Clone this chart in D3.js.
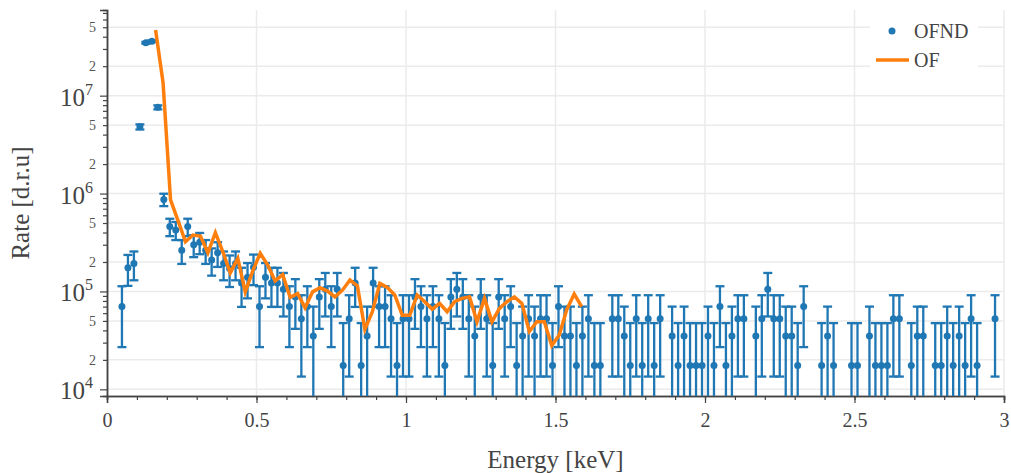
<!DOCTYPE html>
<html>
<head>
<meta charset="utf-8">
<script src="https://cdn.jsdelivr.net/npm/d3@7"></script>
<style>
  body { margin: 0; background: #fff; }
  text { font-family: "Liberation Serif", "Times New Roman", serif; fill: #444; }
</style>
</head>
<body>
<div id="chart"></div>
<script>
// OFND: measured rate per energy bin, with its error
const ofndEnergy = [0.05, 0.07, 0.09, 0.11, 0.13, 0.15, 0.17, 0.19, 0.21, 0.23, 0.25, 0.27, 0.29, 0.31, 0.33, 0.35,
  0.37, 0.39, 0.41, 0.43, 0.45, 0.47, 0.49, 0.51, 0.53, 0.55, 0.57, 0.59, 0.61, 0.63, 0.65, 0.67, 0.69, 0.71, 0.73,
  0.75, 0.77, 0.79, 0.81, 0.83, 0.85, 0.87, 0.89, 0.91, 0.93, 0.95, 0.97, 0.99, 1.01, 1.03, 1.05, 1.07, 1.09, 1.11,
  1.13, 1.15, 1.17, 1.19, 1.21, 1.23, 1.25, 1.27, 1.29, 1.31, 1.33, 1.35, 1.37, 1.39, 1.41, 1.43, 1.45, 1.47, 1.49,
  1.51, 1.53, 1.55, 1.57, 1.59, 1.61, 1.63, 1.65, 1.69, 1.71, 1.73, 1.75, 1.77, 1.79, 1.81, 1.83, 1.85, 1.89, 1.91,
  1.93, 1.95, 1.97, 1.99, 2.01, 2.03, 2.05, 2.07, 2.09, 2.11, 2.13, 2.17, 2.19, 2.21, 2.23, 2.25, 2.27, 2.29, 2.31,
  2.33, 2.39, 2.41, 2.43, 2.49, 2.51, 2.55, 2.57, 2.59, 2.61, 2.63, 2.65, 2.69, 2.71, 2.73, 2.77, 2.79, 2.81, 2.83,
  2.85, 2.87, 2.89, 2.91, 2.97];
const ofndRate = [7.0e4, 1.75e5, 1.93e5, 4.8e6, 3.47e7, 3.6e7, 7.6e6, 8.7e5, 4.6e5, 4.24e5, 2.63e5, 4.6e5, 3.0e5, 3.18e5, 2.63e5, 2.1e5,
  2.48e5, 1.93e5, 1.72e5, 1.93e5, 1.22e5, 1.4e5, 1.77e5, 7.0e4, 1.4e5, 1.22e5, 1.22e5, 1.05e5, 7.0e4, 8.75e4, 5.25e4, 7.0e4, 3.5e4, 8.75e4, 1.05e5,
  7.0e4, 1.05e5, 1.75e4, 5.25e4, 1.22e5, 1.75e4, 3.5e4, 1.22e5, 7.0e4, 7.0e4, 5.25e4, 1.75e4, 5.25e4, 5.25e4, 8.75e4, 7.0e4, 5.25e4, 7.0e4, 5.25e4,
  1.75e4, 8.75e4, 1.05e5, 8.75e4, 5.25e4, 3.5e4, 8.75e4, 5.25e4, 1.75e4, 8.75e4, 5.25e4, 7.0e4, 1.75e4, 3.5e4, 5.25e4, 3.5e4, 5.25e4, 5.25e4, 1.75e4,
  7.0e4, 3.5e4, 3.5e4, 1.75e4, 3.5e4, 5.25e4, 1.75e4, 1.75e4, 5.25e4, 5.25e4, 3.5e4, 1.75e4, 5.25e4, 1.75e4, 5.25e4, 1.75e4, 5.25e4, 3.5e4, 1.75e4,
  3.5e4, 1.75e4, 1.75e4, 1.75e4, 3.5e4, 1.75e4, 7.0e4, 1.75e4, 3.5e4, 5.25e4, 5.25e4, 3.5e4, 5.25e4, 1.05e5, 5.25e4, 5.25e4, 3.5e4, 3.5e4, 1.75e4,
  7.0e4, 1.75e4, 3.5e4, 1.75e4, 1.75e4, 1.75e4, 3.5e4, 1.75e4, 1.75e4, 1.75e4, 5.25e4, 5.25e4, 1.75e4, 3.5e4, 3.5e4, 1.75e4, 1.75e4, 3.5e4, 1.75e4,
  3.5e4, 1.75e4, 5.25e4, 1.75e4, 5.25e4];
const ofndErr = [4.3e4, 6.1e4, 6.3e4, 2.9e5, 7.8e5, 7.9e5, 3.6e5, 1.26e5, 9.3e4, 8.9e4, 7.2e4, 9.3e4, 7.6e4, 7.8e4, 7.2e4, 6.5e4,
  7.0e4, 6.3e4, 6.1e4, 6.3e4, 5.25e4, 5.5e4, 6.1e4, 4.3e4, 5.5e4, 5.25e4, 5.25e4, 4.95e4, 4.3e4, 4.6e4, 3.9e4, 4.3e4, 3.5e4, 4.6e4, 4.95e4,
  4.3e4, 4.95e4, 3.0e4, 3.9e4, 5.25e4, 3.0e4, 3.5e4, 5.25e4, 4.3e4, 4.3e4, 3.9e4, 3.0e4, 3.9e4, 3.9e4, 4.6e4, 4.3e4, 3.9e4, 4.3e4, 3.9e4,
  3.0e4, 4.6e4, 4.95e4, 4.6e4, 3.9e4, 3.5e4, 4.6e4, 3.9e4, 3.0e4, 4.6e4, 3.9e4, 4.3e4, 3.0e4, 3.5e4, 3.9e4, 3.5e4, 3.9e4, 3.9e4, 3.0e4,
  4.3e4, 3.5e4, 3.5e4, 3.0e4, 3.5e4, 3.9e4, 3.0e4, 3.0e4, 3.9e4, 3.9e4, 3.5e4, 3.0e4, 3.9e4, 3.0e4, 3.9e4, 3.0e4, 3.9e4, 3.5e4, 3.0e4,
  3.5e4, 3.0e4, 3.0e4, 3.0e4, 3.5e4, 3.0e4, 4.3e4, 3.0e4, 3.5e4, 3.9e4, 3.9e4, 3.5e4, 3.9e4, 4.95e4, 3.9e4, 3.9e4, 3.5e4, 3.5e4, 3.0e4,
  4.3e4, 3.0e4, 3.5e4, 3.0e4, 3.0e4, 3.0e4, 3.5e4, 3.0e4, 3.0e4, 3.0e4, 3.9e4, 3.9e4, 3.0e4, 3.5e4, 3.5e4, 3.0e4, 3.0e4, 3.5e4, 3.0e4,
  3.5e4, 3.0e4, 3.9e4, 3.0e4, 3.9e4];

// OF: model curve
const ofEnergy = [0.1625, 0.1875, 0.2125, 0.2375, 0.2625, 0.2875, 0.3125, 0.3375, 0.3625, 0.3875, 0.4125, 0.4375,
  0.4625, 0.4875, 0.5125, 0.5375, 0.5625, 0.5875, 0.6125, 0.6375, 0.6625, 0.6875, 0.7125, 0.7375, 0.7625, 0.7875,
  0.8125, 0.8375, 0.8625, 0.8875, 0.9125, 0.9375, 0.9625, 0.9875, 1.0125, 1.0375, 1.0625, 1.0875, 1.1125, 1.1375,
  1.1625, 1.1875, 1.2125, 1.2375, 1.2625, 1.2875, 1.3125, 1.3375, 1.3625, 1.3875, 1.4125, 1.4375, 1.4625, 1.4875,
  1.5125, 1.5375, 1.5625, 1.5875];
const ofRate = [4.68e7, 1.36e7, 8.6e5, 5.3e5, 3.22e5, 3.77e5, 3.68e5, 2.48e5, 3.98e5, 2.54e5, 1.55e5, 2.18e5,
  9.9e4, 1.62e5, 2.45e5, 1.86e5, 1.28e5, 1.49e5, 8.7e4, 9.5e4, 6.8e4, 9.9e4, 1.09e5, 1.01e5, 8.8e4, 1.03e5,
  1.31e5, 1.14e5, 4.1e4, 6.2e4, 1.21e5, 1.1e5, 9.2e4, 5.7e4, 5.7e4, 9.2e4, 7.85e4, 6.6e4, 7.55e4, 6.2e4,
  7.85e4, 8.5e4, 8.8e4, 4.9e4, 8.5e4, 4.9e4, 6.7e4, 7.85e4, 8.8e4, 7.55e4, 3.9e4, 4.9e4, 4.9e4, 2.8e4,
  3.6e4, 6.5e4, 9.4e4, 7.0e4];

// axis ticks
const xMajorTicks = [0, 0.5, 1, 1.5, 2, 2.5, 3];
const xTickLabels = ["0", "0.5", "1", "1.5", "2", "2.5", "3"];
const yDecades = [1e4, 1e5, 1e6, 1e7];
const yDecadeExp = ["4", "5", "6", "7"];
const ySubLabels = [2e4, 5e4, 2e5, 5e5, 2e6, 5e6, 2e7, 5e7];

const W = 1011, H = 473;
const margin = { top: 10, right: 7, bottom: 77, left: 107 };
const width = W - margin.left - margin.right;
const height = H - margin.top - margin.bottom;

const svg = d3.select("#chart").append("svg")
    .attr("width", W)
    .attr("height", H);

const g = svg.append("g")
    .attr("transform", "translate(" + margin.left + "," + margin.top + ")");

const x = d3.scaleLinear().domain([0, 3]).range([0, width]);
const y = d3.scaleLog().domain([8550, 7.5e7]).range([height, 0]);

// grid
const hGrid = [];
yDecades.forEach(d => hGrid.push(d));
ySubLabels.forEach(d => hGrid.push(d));
g.append("g").selectAll("line").data(hGrid).join("line")
    .attr("x1", 0).attr("x2", width)
    .attr("y1", d => y(d)).attr("y2", d => y(d))
    .attr("stroke", "#ebebeb").attr("stroke-width", 1.5);
g.append("g").selectAll("line").data(xMajorTicks.slice(1)).join("line")
    .attr("x1", d => x(d)).attr("x2", d => x(d))
    .attr("y1", 0).attr("y2", height)
    .attr("stroke", "#ebebeb").attr("stroke-width", 1.5);

// minor tick values
const xMinor = d3.range(0, 31).map(i => i / 10);
const yMinor = [];
yDecades.forEach(d => { for (let m = 2; m <= 9; m++) if (d * m < 7.5e7) yMinor.push(d * m); });

// x axis
const xAxisMinor = g.append("g")
    .attr("transform", "translate(0," + height + ")")
    .call(d3.axisBottom(x).tickValues(xMinor).tickSize(4).tickFormat(""));
const xAxis = g.append("g")
    .attr("transform", "translate(0," + height + ")")
    .call(d3.axisBottom(x).tickValues(xMajorTicks).tickSize(7).tickFormat((d, i) => xTickLabels[i]).tickPadding(6));
xAxis.selectAll("text").style("font-size", "20px").attr("dy", "0.88em");

// y axis
const yAxisMinor = g.append("g")
    .call(d3.axisLeft(y).tickValues(yMinor).tickSize(4).tickFormat(""));
const yAxis = g.append("g")
    .call(d3.axisLeft(y).tickValues(yDecades).tickSize(7).tickFormat(""));

[xAxisMinor, xAxis, yAxisMinor, yAxis].forEach(a => {
    a.selectAll("line").attr("stroke", "#444").attr("stroke-width", 1.2);
    a.select(".domain").attr("stroke", "#444").attr("stroke-width", 1.5);
});

// decade labels 10^n
const decLab = g.append("g").selectAll("text").data(yDecades).join("text")
    .attr("x", -14)
    .attr("y", d => y(d) + 10)
    .attr("text-anchor", "end")
    .style("font-size", "25px");
decLab.append("tspan").text("10");
decLab.append("tspan").attr("dy", -11).style("font-size", "16px").text((d, i) => yDecadeExp[i]);

g.append("g").selectAll("text").data(ySubLabels).join("text")
    .attr("x", -11)
    .attr("y", d => y(d) + 5)
    .attr("text-anchor", "end")
    .style("font-size", "14px")
    .style("fill", "#555")
    .text(d => String(d).charAt(0));

// axis titles
svg.append("text")
    .attr("x", margin.left + width / 2)
    .attr("y", 468)
    .attr("text-anchor", "middle")
    .style("font-size", "25px")
    .text("Energy [keV]");
svg.append("text")
    .attr("transform", "translate(29," + (margin.top + height / 2) + ") rotate(-90)")
    .attr("text-anchor", "middle")
    .style("font-size", "25px")
    .text("Rate [d.r.u]");

// data area
svg.append("defs").append("clipPath").attr("id", "clip")
    .append("rect").attr("width", width).attr("height", height);
const plot = g.append("g").attr("clip-path", "url(#clip)");

const ofnd = ofndEnergy.map((e, i) => ({ e: e, v: ofndRate[i], err: ofndErr[i] }));
const lowY = d => d.v - d.err > 0 ? y(d.v - d.err) : height + 10;
const blue = "#1f77b4";

const bars = plot.append("g").attr("stroke", blue).attr("stroke-width", 2.3);
bars.selectAll(".stem").data(ofnd).join("line")
    .attr("class", "stem")
    .attr("x1", d => x(d.e)).attr("x2", d => x(d.e))
    .attr("y1", d => y(d.v + d.err)).attr("y2", lowY);
bars.selectAll(".capTop").data(ofnd).join("line")
    .attr("class", "capTop")
    .attr("x1", d => x(d.e) - 4.5).attr("x2", d => x(d.e) + 4.5)
    .attr("y1", d => y(d.v + d.err)).attr("y2", d => y(d.v + d.err));
bars.selectAll(".capBot").data(ofnd.filter(d => d.v - d.err > 0)).join("line")
    .attr("class", "capBot")
    .attr("x1", d => x(d.e) - 4.5).attr("x2", d => x(d.e) + 4.5)
    .attr("y1", lowY).attr("y2", lowY);

plot.append("g").selectAll("circle").data(ofnd).join("circle")
    .attr("cx", d => x(d.e)).attr("cy", d => y(d.v))
    .attr("r", 3.5)
    .attr("fill", blue);

const line = d3.line()
    .x((d, i) => x(ofEnergy[i]))
    .y(d => y(d));
plot.append("path")
    .datum(ofRate)
    .attr("d", line)
    .attr("fill", "none")
    .attr("stroke", "#ff7f0e")
    .attr("stroke-width", 3.5)
    .attr("stroke-linejoin", "miter");

// legend
const leg = svg.append("g");
leg.append("rect").attr("x", 870).attr("y", 14).attr("width", 108).attr("height", 66).attr("fill", "#fff");
leg.append("circle").attr("cx", 892).attr("cy", 31).attr("r", 3.5).attr("fill", blue);
leg.append("text").attr("x", 914).attr("y", 38).style("font-size", "20px").text("OFND");
leg.append("line").attr("x1", 876).attr("x2", 909).attr("y1", 60).attr("y2", 60)
    .attr("stroke", "#ff7f0e").attr("stroke-width", 3.5);
leg.append("text").attr("x", 914).attr("y", 67).style("font-size", "20px").text("OF");
</script>
</body>
</html>
